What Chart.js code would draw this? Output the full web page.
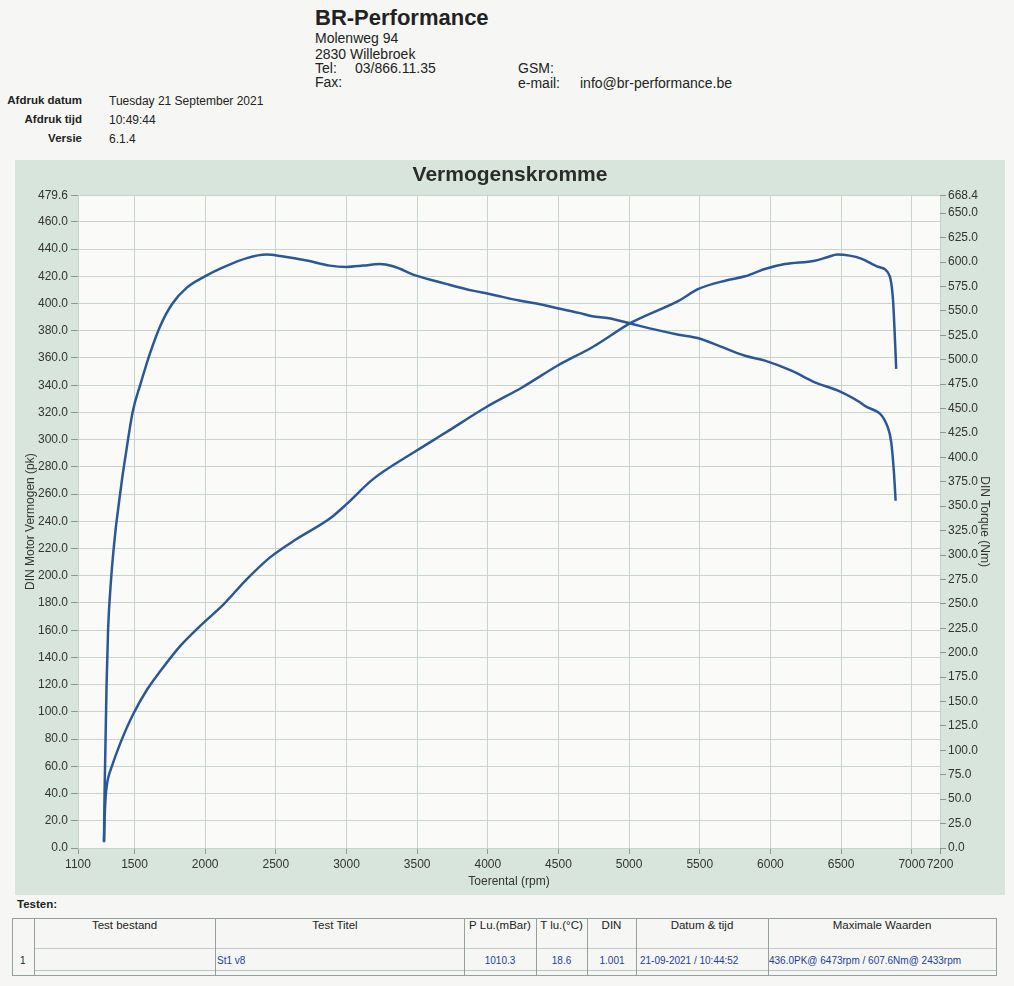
<!DOCTYPE html>
<html>
<head>
<meta charset="utf-8">
<title>Vermogenskromme</title>
<script src="https://cdn.jsdelivr.net/npm/chart.js"></script>
<style>
  body { margin: 0; background: #f6f7f4; font-family: "Liberation Sans", Arial, sans-serif; color: #222; }
  .page { position: relative; width: 1014px; height: 986px; overflow: hidden; }
  .t { position: absolute; white-space: nowrap; line-height: 1; }
  .b { font-weight: bold; }
  .hd { font-size: 14px; }
  .lbl { font-size: 11.5px; }
  .r { text-align: right; }
  .c { text-align: center; }
  .blue { color: #1c3d9c; font-size: 10px; }
  .line { position: absolute; background: #93a19a; }
  #panel { position: absolute; left: 15px; top: 160px; background: #d8e5dd; }
</style>
</head>
<body>
<div class="page">
  <!-- header -->
  <div class="t b" style="left:315px; top:7px; font-size:22px;">BR-Performance</div>
  <div class="t hd" style="left:315px; top:31px;">Molenweg 94</div>
  <div class="t hd" style="left:315px; top:47px;">2830 Willebroek</div>
  <div class="t hd" style="left:315px; top:61px;">Tel:</div>
  <div class="t hd" style="left:355px; top:61px;">03/866.11.35</div>
  <div class="t hd" style="left:315px; top:75px;">Fax:</div>
  <div class="t hd" style="left:518px; top:61px;">GSM:</div>
  <div class="t hd" style="left:518px; top:76px;">e-mail:</div>
  <div class="t hd" style="left:580px; top:76px;">info@br-performance.be</div>

  <div class="t lbl b r" style="left:0; width:82px; top:95px;">Afdruk datum</div>
  <div class="t lbl" style="left:109px; top:95px; font-size:12px;">Tuesday 21 September 2021</div>
  <div class="t lbl b r" style="left:0; width:82px; top:114px;">Afdruk tijd</div>
  <div class="t lbl" style="left:109px; top:114px; font-size:12px;">10:49:44</div>
  <div class="t lbl b r" style="left:0; width:82px; top:133px;">Versie</div>
  <div class="t lbl" style="left:109px; top:133px; font-size:12px;">6.1.4</div>

  <canvas id="panel" width="990" height="735"></canvas>

  <!-- test table -->
  <div class="t lbl b" style="left:17px; top:899px;">Testen:</div>
  <div class="line" style="left:12px; top:918px; width:984px; height:1px;"></div>
  <div class="line" style="left:12px; top:975px; width:984px; height:1px;"></div>
  <div class="line" style="left:34px; top:948px; width:962px; height:1px; opacity:0.5;"></div>
  <div class="line" style="left:34px; top:970px; width:962px; height:1px; opacity:0.6;"></div>
  <div class="line" style="left:12px; top:918px; width:1px; height:58px;"></div>
  <div class="line" style="left:996px; top:918px; width:1px; height:58px;"></div>
  <div class="line" style="left:34px; top:918px; width:1px; height:58px;"></div>
  <div class="line" style="left:215px; top:918px; width:1px; height:58px;"></div>
  <div class="line" style="left:464px; top:918px; width:1px; height:58px;"></div>
  <div class="line" style="left:536px; top:918px; width:1px; height:58px;"></div>
  <div class="line" style="left:587px; top:918px; width:1px; height:58px;"></div>
  <div class="line" style="left:636px; top:918px; width:1px; height:58px;"></div>
  <div class="line" style="left:768px; top:918px; width:1px; height:58px;"></div>

  <div class="t lbl c" style="left:34px; width:181px; top:920px;">Test bestand</div>
  <div class="t lbl c" style="left:215px; width:240px; top:920px;">Test Titel</div>
  <div class="t lbl c" style="left:464px; width:72px; top:920px;">P Lu.(mBar)</div>
  <div class="t lbl c" style="left:536px; width:51px; top:920px;">T lu.(°C)</div>
  <div class="t lbl c" style="left:587px; width:49px; top:920px;">DIN</div>
  <div class="t lbl c" style="left:636px; width:132px; top:920px;">Datum &amp; tijd</div>
  <div class="t lbl c" style="left:768px; width:228px; top:920px;">Maximale Waarden</div>

  <div class="t" style="left:20px; top:956px; font-size:10px;">1</div>
  <div class="t blue" style="left:217px; top:956px;">St1 v8</div>
  <div class="t blue c" style="left:470px; width:60px; top:956px;">1010.3</div>
  <div class="t blue c" style="left:536px; width:51px; top:956px;">18.6</div>
  <div class="t blue c" style="left:587px; width:50px; top:956px;">1.001</div>
  <div class="t blue" style="left:640px; top:956px;">21-09-2021 / 10:44:52</div>
  <div class="t blue" style="left:769px; top:956px;">436.0PK@ 6473rpm / 607.6Nm@ 2433rpm</div>
</div>

<script>
// power curve (left axis, pk)
const rpmPower = [1284, 1288, 1296, 1306, 1316, 1331, 1401, 1484, 1590, 1683, 1824, 1965, 2130, 2295, 2459, 2647, 2882, 3000, 3188,
  3494, 3705, 3987, 4245, 4492, 4739, 5021, 5350, 5491, 5680, 5820, 5961, 6102, 6314, 6408, 6473, 6560, 6643, 6761,
  6843, 6867, 6879, 6890];
const powerPk = [5.1, 21.0, 38.2, 47.5, 52.5, 57.5, 77.4, 97.0, 116.6, 130.0, 148.5, 163.2, 179.0, 197.5, 213.5, 227.0, 242.0, 252.6, 271.0,
  291.8, 305.4, 323.8, 338.5, 354.3, 367.9, 386.3, 402.0, 410.7, 416.8, 420.0, 425.4, 429.0, 431.5, 434.2, 436.0, 435.2, 433.0, 427.0,
  420.5, 403.4, 379.0, 352.0];

// torque curve (right axis, Nm)
const rpmTorque = [1284, 1288, 1302, 1313, 1334, 1366, 1384, 1412, 1437, 1486, 1542, 1613, 1683, 1766, 1872, 2001,
  2130, 2295, 2433, 2553, 2718, 2882, 3000, 3118, 3235, 3329, 3494, 3705, 3893, 4011, 4222, 4363, 4492, 4645,
  4739, 4857, 5021, 5162, 5350, 5491, 5632, 5820, 5961, 6149, 6314, 6479, 6667, 6831, 6855, 6874, 6886];
const torqueNm = [6.0, 57.0, 166.0, 224.0, 275.0, 326.0, 347.0, 378.0, 402.0, 446.0, 475.0, 508.0, 534.8, 557.0, 574.0, 585.5,
  594.7, 604.0, 607.6, 605.6, 601.5, 596.3, 595.0, 596.3, 598.0, 595.7, 586.0, 577.6, 570.7, 567.3, 560.5, 557.0, 552.7, 547.9,
  544.5, 542.4, 536.6, 531.5, 525.6, 522.0, 514.4, 504.0, 499.0, 488.7, 476.8, 468.2, 452.9, 430.7, 415.4, 384.6, 355.5];

// axis tick labels
const rpmTicks = [1100, 1500, 2000, 2500, 3000, 3500, 4000, 4500, 5000, 5500, 6000, 6500, 7000, 7200];
const pkTicks = [0, 20, 40, 60, 80, 100, 120, 140, 160, 180, 200, 220, 240, 260, 280, 300, 320, 340, 360, 380,
  400, 420, 440, 460, 479.6];
const nmTicks = [0, 25, 50, 75, 100, 125, 150, 175, 200, 225, 250, 275, 300, 325, 350, 375, 400, 425, 450, 475,
  500, 525, 550, 575, 600, 625, 650, 668.4];

Chart.defaults.font.family = '"Liberation Sans", Arial, sans-serif';

const gridColor = '#c6d4cc';
const tickColor = '#8c9891';
const textColor = '#333';
const lineColor = '#2b5797';

const toPoints = (xs, ys) => xs.map((x, i) => ({ x: x, y: ys[i] }));
const fixTicks = (list) => (axis) => { axis.ticks = list.map(v => ({ value: v })); };

// white plot area on the grey panel
const plotBg = {
  id: 'plotBg',
  beforeDraw(chart) {
    const a = chart.chartArea;
    chart.ctx.save();
    chart.ctx.fillStyle = '#fafbf8';
    chart.ctx.fillRect(a.left, a.top, a.right - a.left, a.bottom - a.top);
    chart.ctx.restore();
  }
};

new Chart(document.getElementById('panel'), {
  type: 'line',
  data: {
    datasets: [
      {
        label: 'DIN Motor Vermogen (pk)',
        data: toPoints(rpmPower, powerPk),
        yAxisID: 'yPk',
        borderColor: lineColor,
        borderWidth: 2.5,
        pointRadius: 0,
        fill: false,
        cubicInterpolationMode: 'monotone'
      },
      {
        label: 'DIN Torque (Nm)',
        data: toPoints(rpmTorque, torqueNm),
        yAxisID: 'yNm',
        borderColor: lineColor,
        borderWidth: 2.5,
        pointRadius: 0,
        fill: false,
        cubicInterpolationMode: 'monotone'
      }
    ]
  },
  options: {
    responsive: false,
    animation: false,
    devicePixelRatio: 1,
    layout: { padding: 0 },
    plugins: {
      legend: { display: false },
      tooltip: { enabled: false },
      title: {
        display: true,
        text: 'Vermogenskromme',
        color: '#2b2b2b',
        font: { size: 21, weight: 'bold' },
        padding: { top: 3, bottom: 7 }
      }
    },
    scales: {
      x: {
        type: 'linear',
        min: 1100,
        max: 7200,
        afterBuildTicks: fixTicks(rpmTicks),
        afterFit: (s) => { s.height = 47; },
        ticks: {
          autoSkip: false, maxRotation: 0, padding: 3,
          color: textColor, font: { size: 12 },
          callback: (v) => String(v)
        },
        grid: { color: gridColor, tickColor: tickColor, tickLength: 6 },
        border: { display: false },
        title: { display: true, text: 'Toerental (rpm)', color: textColor, font: { size: 12 }, padding: { top: 0, bottom: 6 } }
      },
      yPk: {
        type: 'linear',
        position: 'left',
        min: 0,
        max: 479.6,
        afterBuildTicks: fixTicks(pkTicks),
        afterFit: (s) => { s.width = 63; },
        ticks: { color: textColor, font: { size: 12 }, padding: 3, callback: (v) => v.toFixed(1) },
        grid: { color: gridColor, tickColor: tickColor, tickLength: 7 },
        border: { display: false },
        title: { display: true, text: 'DIN Motor Vermogen (pk)', color: textColor, font: { size: 12 }, padding: { top: 8, bottom: 0 } }
      },
      yNm: {
        type: 'linear',
        position: 'right',
        min: 0,
        max: 668.4,
        afterBuildTicks: fixTicks(nmTicks),
        afterFit: (s) => { s.width = 65; },
        ticks: { color: textColor, font: { size: 12 }, padding: 2, callback: (v) => v.toFixed(1) },
        grid: { drawOnChartArea: false, tickColor: tickColor, tickLength: 6 },
        border: { display: false },
        title: { display: true, text: 'DIN Torque (Nm)', color: textColor, font: { size: 12 }, padding: { top: 13, bottom: 0 } }
      }
    }
  },
  plugins: [plotBg]
});
</script>
</body>
</html>
